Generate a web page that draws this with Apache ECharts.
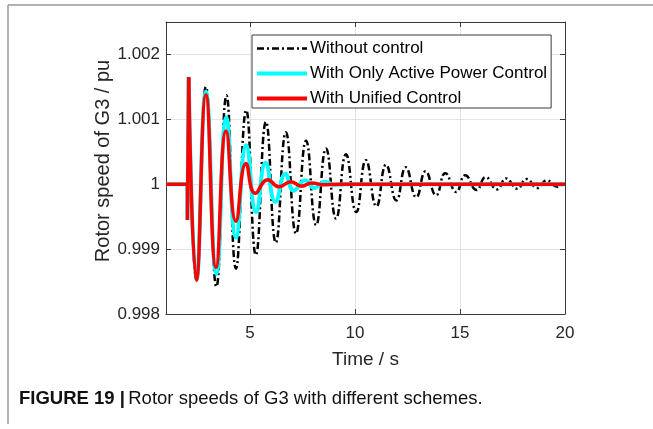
<!DOCTYPE html>
<html>
<head>
<meta charset="utf-8">
<script src="https://cdn.jsdelivr.net/npm/echarts@6/dist/echarts.min.js"></script>
<style>
html,body{margin:0;padding:0;background:#fff;}
#c{width:653px;height:429px;}
</style>
</head>
<body>
<div id="c"></div>
<script>
// ---- data ----
const xTicks = [5, 10, 15, 20];
const yTicks = [0.998, 0.999, 1, 1.001, 1.002];
const seriesNames = ['Without control', 'With Only Active Power Control', 'With Unified Control'];

// pre-disturbance flat part and the step at t = 2 s (same for all three)
const tStart = [1, 2.02, 2.02, 2.08];
const vStart = [1, 1, 0.99945, 1.00165];

// Without control (peaks / troughs)
const tBlack = [2.08, 2.45, 2.90, 3.40, 3.88, 4.33, 4.82, 5.28, 5.76, 6.23, 6.71, 7.19, 7.67, 8.15, 8.62, 9.10, 9.57, 10.06, 10.52, 11.02, 11.48, 11.97, 12.42, 12.92, 13.36, 13.86, 14.30, 14.82, 15.25, 15.79, 16.22, 16.76, 17.20, 17.72, 18.18, 18.68, 19.13, 19.62, 20.0];
const vBlack = [1.00165, 0.99852, 1.00150, 0.99842, 1.00137, 0.99870, 1.00114, 0.99891, 1.00096, 0.99910, 1.00080, 0.99924, 1.00067, 0.99937, 1.00055, 0.99947, 1.00046, 0.99957, 1.00037, 0.99966, 1.00030, 0.99975, 1.00026, 0.99980, 1.00020, 0.99983, 1.00017, 0.99988, 1.00014, 0.99991, 1.00011, 0.99992, 1.00009, 0.99993, 1.00008, 0.99994, 1.00006, 0.99996, 1.00003];

// With only active power control
const tCyan = [2.08, 2.45, 2.90, 3.40, 3.87, 4.33, 4.82, 5.29, 5.74, 6.21, 6.69, 7.08, 7.63, 8.05, 8.57, 9.05, 9.60, 20];
const vCyan = [1.00165, 0.99852, 1.00143, 0.99862, 1.00103, 0.99918, 1.00060, 0.99957, 1.00033, 0.99973, 1.00016, 0.99990, 1.00006, 0.99994, 1.00004, 0.99999, 1.00000, 1.00000];

// With unified control
const tRed = [2.08, 2.45, 2.90, 3.38, 3.86, 4.33, 4.81, 5.25, 5.85, 6.38, 6.95, 7.45, 7.95, 8.50, 9.20, 20];
const vRed = [1.00165, 0.99852, 1.00138, 0.99872, 1.00082, 0.99943, 1.00032, 0.99986, 1.00007, 0.99996, 1.00004, 0.99997, 1.00002, 0.99999, 1.00000, 1.00000];

// ---- chart ----
const zip = (t, v) => t.map((x, i) => [x, v[i]]);
const styles = [
  {color: '#000000', width: 2.5, type: [7, 3, 2, 3]},
  {color: '#00FFFF', width: 4, type: 'solid'},
  {color: '#FF0000', width: 3.5, type: 'solid'}
];
const curves = [zip(tBlack, vBlack), zip(tCyan, vCyan), zip(tRed, vRed)];
const FONT = 'Liberation Sans, Arial, Helvetica, sans-serif';

const series = [];
curves.forEach((d, i) => {
  series.push({
    name: seriesNames[i], type: 'line', data: zip(tStart, vStart),
    showSymbol: false, symbol: 'none', smooth: false,
    lineStyle: styles[i], itemStyle: {color: styles[i].color},
    z: 3 + i, animation: false, clip: true
  });
  series.push({
    name: seriesNames[i], type: 'line', data: d,
    showSymbol: false, symbol: 'none', smooth: 0.5,
    lineStyle: styles[i], itemStyle: {color: styles[i].color},
    z: 3 + i, animation: false, clip: true
  });
});

const axisLineStyle = {color: '#3a3a3a', width: 1};
const labelStyle = {color: '#262626', fontSize: 17, fontFamily: FONT};

const chart = echarts.init(document.getElementById('c'), null, {renderer: 'canvas'});
chart.setOption({
  backgroundColor: '#ffffff',
  animation: false,
  grid: {left: 166, top: 22, right: 88, bottom: 115, containLabel: false},
  legend: {
    orient: 'vertical', left: 252, top: 35,
    data: seriesNames.map((n, i) => ({
      name: n,
      lineStyle: {color: styles[i].color, width: i === 0 ? 2.5 : 4, type: styles[i].type},
      itemStyle: {opacity: 0}
    })),
    itemWidth: 50, itemHeight: 16, itemGap: 8,
    padding: [5, 4, 1, 3],
    itemStyle: {opacity: 0},
    backgroundColor: '#ffffff', borderColor: '#3a3a3a', borderWidth: 1, borderRadius: 0,
    textStyle: {color: '#000', fontSize: 17, fontFamily: FONT, padding: [0, 0, 0, -2]},
    selectedMode: false, z: 20
  },
  xAxis: [{
    type: 'value', min: 1, max: 20,
    name: 'Time / s', nameLocation: 'middle', nameGap: 36,
    nameTextStyle: {color: '#262626', fontSize: 19, fontFamily: FONT},
    axisLine: {show: true, onZero: false, lineStyle: axisLineStyle},
    axisTick: {show: true, inside: true, length: 5, lineStyle: axisLineStyle, customValues: xTicks},
    axisLabel: {show: true, margin: 11, customValues: xTicks, ...labelStyle},
    splitLine: {show: true, lineStyle: {color: '#e3e3e3', width: 1}}
  }, {
    type: 'value', min: 1, max: 20, position: 'top',
    axisLine: {show: true, onZero: false, lineStyle: axisLineStyle},
    axisTick: {show: true, inside: true, length: 5, lineStyle: axisLineStyle, customValues: xTicks},
    axisLabel: {show: false, customValues: xTicks},
    splitLine: {show: false}
  }],
  yAxis: [{
    type: 'value', min: 0.998, max: 1.0025, interval: 0.001,
    axisLine: {show: true, onZero: false, lineStyle: axisLineStyle},
    axisTick: {show: true, inside: true, length: 5, lineStyle: axisLineStyle},
    axisLabel: {show: true, margin: 6, showMaxLabel: false, ...labelStyle,
      formatter: v => String(parseFloat((+v).toFixed(3)))},
    splitLine: {show: true, showMaxLine: false, lineStyle: {color: '#e3e3e3', width: 1}}
  }, {
    type: 'value', min: 0.998, max: 1.0025, interval: 0.001, position: 'right',
    axisLine: {show: true, onZero: false, lineStyle: axisLineStyle},
    axisTick: {show: true, inside: true, length: 5, lineStyle: axisLineStyle},
    axisLabel: {show: false},
    splitLine: {show: false}
  }],
  series: series,
  graphic: [
    {type: 'line', shape: {x1: 8, y1: 5, x2: 653, y2: 5}, style: {stroke: '#9a9a9a', lineWidth: 1.5}, silent: true},
    {type: 'line', shape: {x1: 8, y1: 5, x2: 8, y2: 424}, style: {stroke: '#9a9a9a', lineWidth: 1.5}, silent: true},
    {type: 'text', x: 103, y: 161, rotation: Math.PI / 2, silent: true,
      style: {text: 'Rotor speed of G3 / pu', fontSize: 20, fontFamily: FONT, fill: '#262626',
        align: 'center', verticalAlign: 'middle'}},
    {type: 'text', left: 19, top: 389, silent: true,
      style: {
        text: '{b|FIGURE 19 |} {r|Rotor speeds of G3 with different schemes.}',
        rich: {
          b: {fontSize: 18.5, fontWeight: 'bold', fontFamily: FONT, fill: '#111'},
          r: {fontSize: 18.5, fontFamily: FONT, fill: '#111'}
        }
      }
    }
  ]
});
</script>
</body>
</html>
